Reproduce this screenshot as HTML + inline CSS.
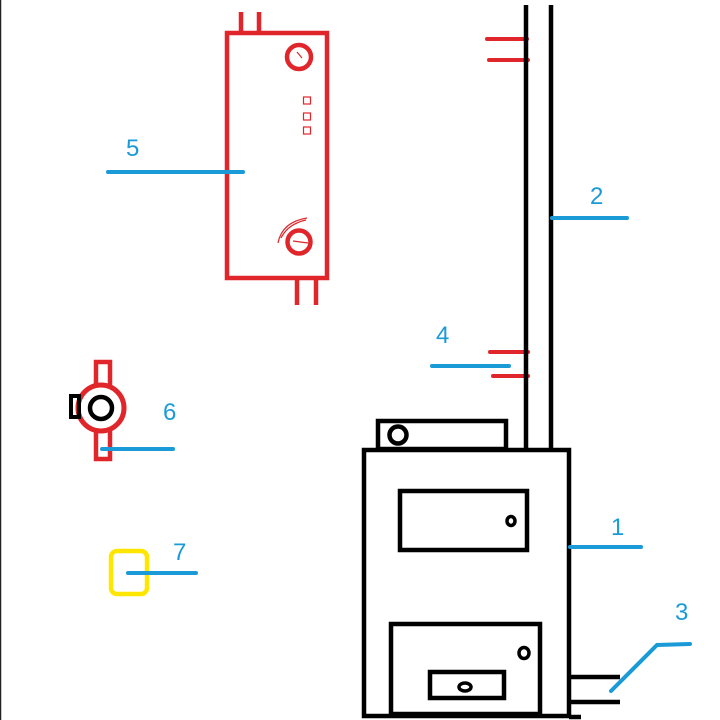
<!DOCTYPE html>
<html><head><meta charset="utf-8"><style>html,body{margin:0;padding:0;background:#fff}svg{display:block}</style></head><body>
<svg width="720" height="720" viewBox="0 0 720 720" xmlns="http://www.w3.org/2000/svg">
<rect width="720" height="720" fill="#fff"/>
<line x1="0.5" y1="0" x2="0.5" y2="720" stroke="#222" stroke-width="1.5"/>
<g fill="none" stroke="#e0262b" stroke-width="4.5">
<rect x="227" y="33" width="100" height="245"/>
<line x1="241" y1="12" x2="241" y2="33"/><line x1="259" y1="12" x2="259" y2="33"/>
<line x1="297" y1="278" x2="297" y2="305"/><line x1="316" y1="278" x2="316" y2="305"/>
<circle cx="299" cy="57" r="12"/>
<circle cx="299" cy="242" r="11.5"/>
</g>
<g fill="none" stroke="#e0262b" stroke-width="1.2">
<rect x="303.5" y="97" width="7" height="7"/><rect x="303.5" y="113" width="7" height="7"/><rect x="303.5" y="127" width="7" height="7"/>
<line x1="297" y1="52" x2="302" y2="58"/>
<line x1="293" y1="241" x2="308" y2="243"/>
<path d="M278 243 Q282 222 307 218"/><path d="M281 238 Q288 224 306 220"/>
</g>
<g stroke="#e0262b" stroke-width="4" stroke-linecap="round">
<line x1="487" y1="39" x2="527" y2="39"/><line x1="489" y1="60" x2="528" y2="60"/>
<line x1="490" y1="352" x2="528" y2="352"/><line x1="493" y1="376" x2="528" y2="376"/>
</g>
<g stroke="#000" stroke-width="4.5" fill="none">
<line x1="526" y1="5" x2="526" y2="449"/><line x1="551" y1="5" x2="551" y2="449"/>
<rect x="378" y="421" width="128" height="28"/>
<circle cx="398" cy="435" r="8.5"/>
<rect x="364" y="450" width="205" height="266"/>
<line x1="569" y1="717" x2="581" y2="717"/>
<rect x="400" y="491" width="127" height="59"/>
<rect x="391" y="624" width="149" height="90"/>
<rect x="430" y="672" width="74" height="26"/>
<line x1="570" y1="677" x2="620" y2="677"/><line x1="570" y1="702" x2="620" y2="702"/>
</g>
<g stroke="#000" stroke-width="3.5" fill="none">
<ellipse cx="511" cy="521" rx="4" ry="4.5"/>
<ellipse cx="524" cy="653" rx="5" ry="5.5"/>
<ellipse cx="465" cy="687" rx="6" ry="4"/>
</g>
<rect x="96" y="362" width="14" height="97" fill="none" stroke="#e0262b" stroke-width="4.5"/>
<circle cx="101" cy="408" r="23" fill="#fff" stroke="#e0262b" stroke-width="5"/>
<circle cx="101" cy="408" r="11" fill="none" stroke="#000" stroke-width="4.5"/>
<rect x="71" y="396" width="8" height="21" fill="none" stroke="#000" stroke-width="4"/>
<rect x="111" y="551" width="36" height="43" rx="6" fill="none" stroke="#ffe600" stroke-width="4.5"/>
<g stroke="#1a9ad7" stroke-width="4" stroke-linecap="round" fill="none">
<line x1="108" y1="172" x2="243" y2="172"/>
<line x1="552" y1="218" x2="627" y2="218"/>
<line x1="432" y1="366" x2="509" y2="366"/>
<line x1="102" y1="449" x2="173" y2="449"/>
<line x1="128" y1="573" x2="196" y2="573"/>
<line x1="570" y1="547" x2="641" y2="547"/>
<polyline points="611,691 657,645 690,644"/>
</g>
<g fill="#1a9ad7" font-family="Liberation Sans, sans-serif" font-size="24">
<text x="126" y="156">5</text>
<text x="590" y="204">2</text>
<text x="436" y="343">4</text>
<text x="163" y="420">6</text>
<text x="611" y="535">1</text>
<text x="675" y="620">3</text>
<text x="173" y="560">7</text>
</g>
</svg>
</body></html>
